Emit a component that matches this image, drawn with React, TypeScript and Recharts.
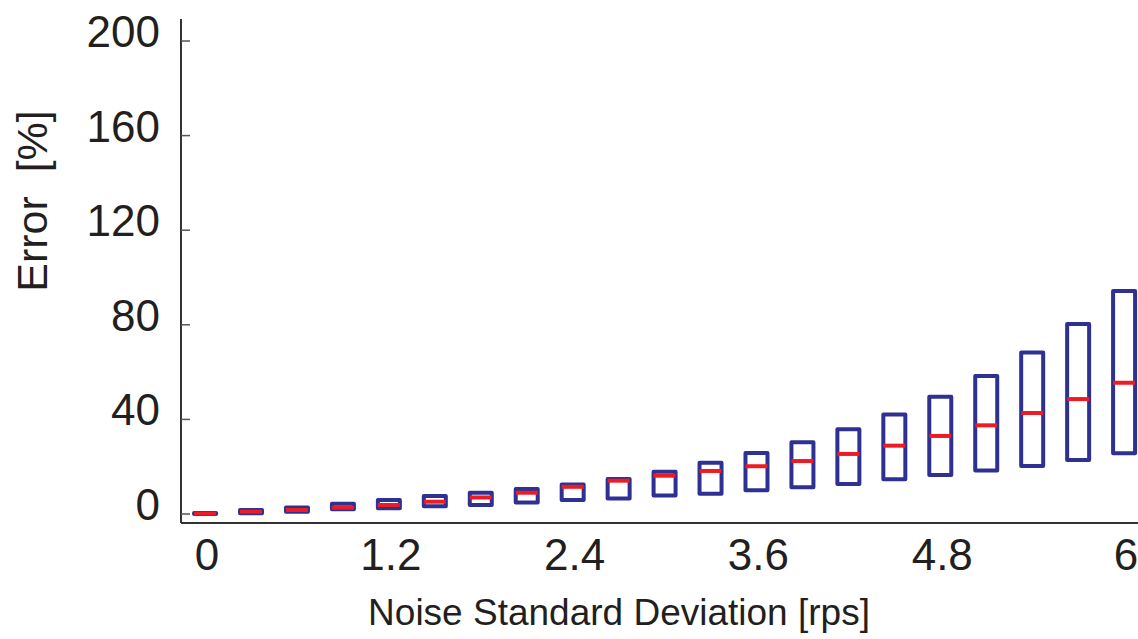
import React from "react";
import { ComposedChart, Bar, Scatter, XAxis, YAxis } from "recharts";

// noise standard deviation [rps] for each box
const noiseStd = [0, 0.3, 0.6, 0.9, 1.2, 1.5, 1.8, 2.1, 2.4, 2.7, 3.0, 3.3, 3.6, 3.9, 4.2, 4.5, 4.8, 5.1, 5.4, 5.7, 6.0];
// lower / upper edge of each box and the median, error in %
const lowerQ = [0, 0.3, 1.0, 2.0, 2.4, 3.3, 3.8, 4.9, 5.9, 6.6, 7.8, 8.6, 10.1, 11.3, 12.7, 14.7, 16.5, 18.4, 20.3, 22.8, 25.7];
const upperQ = [0.4, 1.7, 2.8, 4.3, 5.9, 7.6, 9.0, 10.6, 12.5, 14.8, 17.9, 21.7, 25.8, 30.3, 35.8, 42.1, 49.6, 58.4, 68.3, 80.3, 94.3];
const medians = [0.2, 1.0, 1.7, 2.7, 3.8, 5.2, 7.0, 9.0, 11.5, 14.1, 16.2, 18.2, 20.2, 22.4, 25.4, 28.9, 33.0, 37.5, 42.7, 48.6, 55.5];

const xTicks = [0, 1.2, 2.4, 3.6, 4.8, 6];
const yTicks = [0, 40, 80, 120, 160, 200];
const yMinorTicks = [0, 20, 40, 60, 80, 100, 120, 140, 160, 180, 200];

const xDomain: [number, number] = [-0.157, 6.091];
const yDomain: [number, number] = [-3.8, 209.3];

const FONT = '"Liberation Sans", Arial, Helvetica, sans-serif';
const TEXT = "#231f20";
const BLUE = "#2e3192";
const RED = "#ed1c24";

const data = noiseStd.map((x, i) => ({
  x,
  box: [lowerQ[i], upperQ[i]],
  med: medians[i],
}));

const LeftTick = (props: any) => {
  const { x, y, payload } = props;
  return (
    <g>
      <line x1={x} x2={x + 9} y1={y} y2={y} stroke="#555" strokeWidth={1.5} />
      <text x={x - 21} y={y + 6} textAnchor="end" fontSize={44} fontFamily={FONT} fill={TEXT}>
        {payload.value}
      </text>
    </g>
  );
};

const RightTick = (props: any) => {
  const { x, y } = props;
  return <line x1={x - 4} x2={x - 1} y1={y} y2={y} stroke="#666" strokeWidth={1.5} />;
};

const BottomTick = (props: any) => {
  const { x, y, payload } = props;
  return (
    <text x={x + 2} y={y + 47} textAnchor="middle" fontSize={44} fontFamily={FONT} fill={TEXT}>
      {payload.value}
    </text>
  );
};

const MedianMark = (props: any) => {
  const { cx, cy } = props;
  return <line x1={cx - 11} x2={cx + 11} y1={cy} y2={cy} stroke={RED} strokeWidth={4} />;
};

export default function App() {
  return (
    <div style={{ position: "absolute", left: 0, top: 0, width: 1138, height: 639, background: "#fff" }}>
      <ComposedChart
        width={1138}
        height={639}
        data={data}
        margin={{ top: 19, right: 0, bottom: 0, left: 0 }}
      >
        <XAxis
          xAxisId="bottom"
          dataKey="x"
          type="number"
          domain={xDomain}
          ticks={xTicks}
          allowDataOverflow
          height={116}
          tickSize={0}
          tickMargin={0}
          tickLine={false}
          tick={<BottomTick />}
          axisLine={{ stroke: "#333", strokeWidth: 2 }}
        />
        <XAxis
          xAxisId="top"
          dataKey="x"
          type="number"
          orientation="top"
          domain={xDomain}
          allowDataOverflow
          height={0}
          tick={false}
          tickLine={false}
          axisLine={{ stroke: "#333", strokeWidth: 1.5 }}
        />
        <YAxis
          yAxisId="left"
          type="number"
          domain={yDomain}
          ticks={yTicks}
          allowDataOverflow
          width={181}
          tickSize={0}
          tickMargin={0}
          tickLine={false}
          tick={<LeftTick />}
          axisLine={{ stroke: "#333", strokeWidth: 2 }}
        />
        <YAxis
          yAxisId="right"
          orientation="right"
          type="number"
          domain={yDomain}
          ticks={yMinorTicks}
          allowDataOverflow
          width={0}
          tickSize={0}
          tickMargin={0}
          tickLine={false}
          tick={<RightTick />}
          axisLine={false}
        />
        <Bar
          xAxisId="bottom"
          yAxisId="left"
          dataKey="box"
          barSize={22}
          fill="none"
          stroke={BLUE}
          strokeWidth={4}
          strokeLinejoin="round"
          isAnimationActive={false}
        />
        <Scatter
          xAxisId="bottom"
          yAxisId="left"
          dataKey="med"
          shape={<MedianMark />}
          isAnimationActive={false}
        />
      </ComposedChart>
      <svg
        width={1138}
        height={639}
        style={{ position: "absolute", left: 0, top: 0, pointerEvents: "none" }}
      >
        <text x={619} y={625} textAnchor="middle" fontSize={37} fontFamily={FONT} fill={TEXT}>
          Noise Standard Deviation [rps]
        </text>
        <text
          x={47}
          y={201}
          transform="rotate(-90 47 201)"
          textAnchor="middle"
          fontSize={43}
          fontFamily={FONT}
          fill={TEXT}
        >
          {"Error\u00a0\u00a0[%]"}
        </text>
      </svg>
    </div>
  );
}
